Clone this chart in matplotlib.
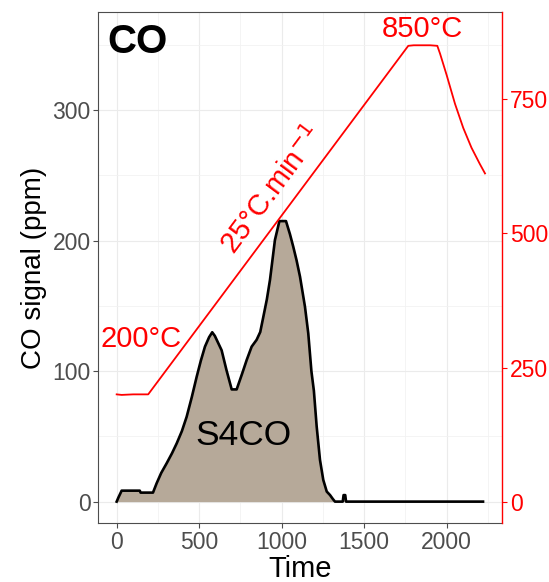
import numpy as np
import matplotlib
matplotlib.use("Agg")
import matplotlib.pyplot as plt

plt.rcParams['font.family'] = ['Liberation Sans', 'DejaVu Sans']

# CO signal (ppm) vs time
t_co = [0, 10, 25, 30, 140, 145, 220, 242, 270, 303, 335, 364, 395, 424, 455,
        485, 510, 535, 560, 579, 595, 636, 665, 697, 727, 760, 788, 818, 848,
        870, 889, 910, 929, 959, 986, 1026, 1050, 1070, 1090, 1111, 1141, 1161,
        1180, 1195, 1212, 1232, 1252, 1273, 1293, 1310, 1323, 1370, 1375, 1385,
        1390, 2220]
co = [0, 3, 7, 8.4, 8.4, 6.9, 6.9, 14, 22, 29.4, 37, 44.7, 54, 65, 80,
      95.8, 108, 118.8, 126, 129.8, 127, 116, 101, 86, 86, 98, 108.6, 118.8, 124,
      130, 141.8, 155, 169.9, 200.5, 215, 215, 205, 195.4, 185, 172.4, 149.4, 129,
      100, 85, 57.5, 32, 16.6, 7.7, 5, 2, 0, 0, 5, 5,
      0, 0]

# temperature programme (deg C)
t_temp = [0, 30, 100, 191, 1767, 1800, 1900, 1943, 1960, 2000, 2050, 2100, 2150, 2200, 2232]
temp = [200, 199, 200, 200, 850, 851, 851, 850, 835, 795, 742, 697, 660, 630, 612]

f = 0.411  # temp -> left axis scale
ylo, yhi = -16.6, 375.5

fig = plt.figure(figsize=(5.49, 5.82), dpi=100)
ax = fig.add_axes([0.179, 0.1009, 0.736, 0.8790])
ax2 = ax.twinx()

ax.fill_between(t_co, co, 0, color='#B6A999', lw=0)
ax.plot(t_co, co, color='black', lw=1.9)
ax2.plot(t_temp, temp, color='red', lw=1.3)

ax.set_xlim(-111.5, 2337)
ax.set_ylim(ylo, yhi)
ax2.set_ylim(ylo / f, yhi / f)

ax.set_xticks([0, 500, 1000, 1500, 2000])
ax.set_xticks([250, 750, 1250, 1750, 2250], minor=True)
ax.set_yticks([0, 100, 200, 300])
ax.set_yticks([50, 150, 250, 350], minor=True)
ax2.set_yticks([0, 250, 500, 750])

ax.grid(which='major', color='#EBEBEB', lw=0.8)
ax.grid(which='minor', color='#F2F2F2', lw=0.6)
ax.set_axisbelow(True)

ax.tick_params(which='major', direction='out', length=3.5, width=0.8,
               color='#4D4D4D', labelcolor='#4D4D4D', labelsize=16.5, pad=2)
ax.tick_params(which='minor', length=0)
ax2.tick_params(axis='y', direction='out', length=3.5, width=0.8,
                color='red', labelcolor='red', labelsize=16.5, pad=2)

for s in ['left', 'top', 'bottom']:
    ax.spines[s].set_color('#4D4D4D')
    ax.spines[s].set_linewidth(0.8)
ax.spines['right'].set_visible(False)
for s in ['left', 'top', 'bottom']:
    ax2.spines[s].set_visible(False)
ax2.spines['right'].set_color('red')
ax2.spines['right'].set_linewidth(1.0)

ax.set_xlabel('Time', fontsize=21, labelpad=1)
ax.set_ylabel('CO signal (ppm)', fontsize=20, labelpad=4)

ax.text(0.022, 0.94, 'CO', transform=ax.transAxes, fontsize=29,
        fontweight='bold', ha='left', va='center')
ax.text(771, 50.3, 'S4CO', fontsize=25.5, ha='center', va='center')
ax2.text(147, 124.5 / f, '200°C', color='red', fontsize=21, ha='center', va='center')
ax2.text(1853, 362.4 / f, '850°C', color='red', fontsize=21, ha='center', va='center')
ax2.text(941, 238.9 / f, r'25°C.min$^{-1}$', color='red', fontsize=21,
         rotation=53.3, rotation_mode='anchor', ha='center', va='center')

fig.savefig('out.png', dpi=100)
